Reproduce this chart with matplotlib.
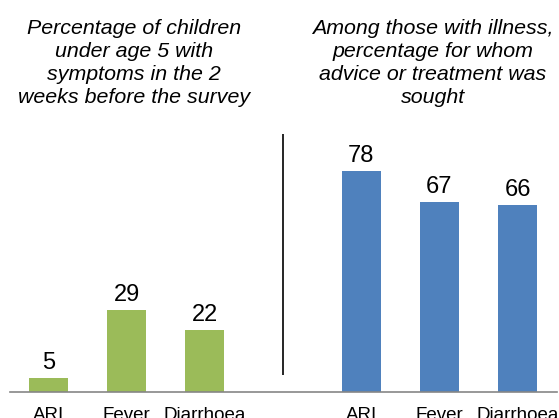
import matplotlib
matplotlib.use("Agg")
import matplotlib.pyplot as plt

categories = ["ARI", "Fever", "Diarrhoea", "", "ARI", "Fever", "Diarrhoea"]
symptom_pct = [5, 29, 22]
treatment_pct = [78, 67, 66]
title_left = "Percentage of children\nunder age 5 with\nsymptoms in the 2\nweeks before the survey"
title_right = "Among those with illness,\npercentage for whom\nadvice or treatment was\nsought"

green = "#9BBB59"
blue = "#4F81BD"

plt.rcParams['font.family'] = ['Liberation Sans', 'DejaVu Sans']

W, H = 559, 418
fig = plt.figure(figsize=(W / 100, H / 100), dpi=100)

ax_left_px, ax_right_px = 9.5, 556.6
ax_bottom_px, ax_top_px = 392, 130
ax = fig.add_axes([ax_left_px / W, (H - ax_bottom_px) / H,
                   (ax_right_px - ax_left_px) / W, (ax_bottom_px - ax_top_px) / H])

xs_left = [0, 1, 2]
xs_right = [4, 5, 6]
ax.bar(xs_left, symptom_pct, width=0.5, color=green)
ax.bar(xs_right, treatment_pct, width=0.5, color=blue)

for x, v in zip(xs_left + xs_right, symptom_pct + treatment_pct):
    ax.annotate(str(v), (x, v), xytext=(0, 3.0), textcoords="offset points",
                ha="center", va="bottom", fontsize=17, color="black")

ax.set_xlim(-0.5, 6.5)
ax.set_ylim(0, 92.6)

ax.set_xticks(range(len(categories)))
ax.set_xticklabels(categories, fontsize=13.5)
ax.tick_params(axis="x", length=0, pad=10.5)
ax.set_yticks([])
for s in ["top", "right", "left"]:
    ax.spines[s].set_visible(False)
ax.spines["bottom"].set_color("#868686")
ax.spines["bottom"].set_linewidth(1.2)

# divider between the two panels
ax.plot([3, 3], [6.0, 91.2], color="black", linewidth=1.2, solid_capstyle="butt")

fig.text(134 / W, 1 - 19 / H, title_left, ha="center", va="top", fontsize=15.4,
         style="italic", linespacing=1.26)
fig.text(433 / W, 1 - 19 / H, title_right, ha="center", va="top", fontsize=15.4,
         style="italic", linespacing=1.26)

fig.savefig("out.png", dpi=100)
